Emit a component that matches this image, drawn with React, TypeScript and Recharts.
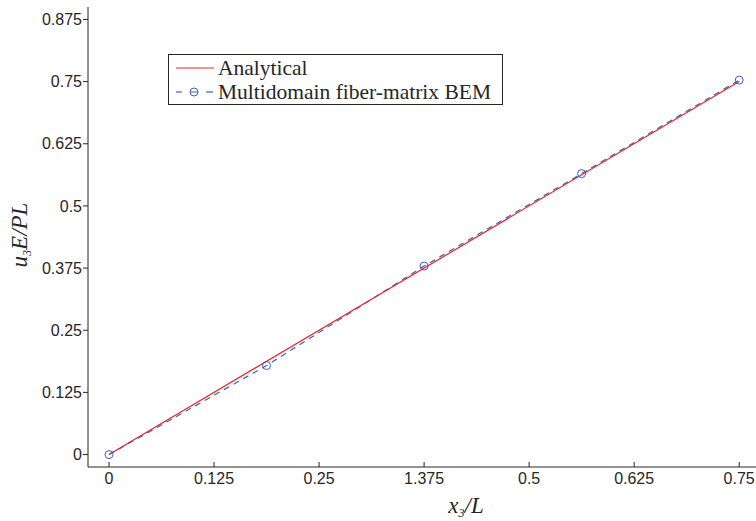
import React from "react";
import { LineChart, Line, XAxis, YAxis, Legend } from "recharts";

const analyticalX = [0, 0.75];
const analyticalY = [0, 0.75];
const bemX = [0, 0.1875, 0.375, 0.5625, 0.75];
const bemY = [0, 0.179, 0.379, 0.565, 0.753];
const xTickValues = [0, 0.125, 0.25, 0.375, 0.5, 0.625, 0.75];
const xTickLabels = ["0", "0.125", "0.25", "1.375", "0.5", "0.625", "0.75"];
const yTickValues = [0, 0.125, 0.25, 0.375, 0.5, 0.625, 0.75, 0.875];
const yTickLabels = ["0", "0.125", "0.25", "0.375", "0.5", "0.625", "0.75", "0.875"];
const seriesNames = ["Analytical", "Multidomain fiber-matrix BEM"];

const analyticalData = analyticalX.map((x, i) => ({ x, y: analyticalY[i] }));
const bemData = bemX.map((x, i) => ({ x, y: bemY[i] }));

const RED = "#e6262d";
const BLUE = "#3e5fbf";
const AXIS = "#262626";
const SANS = "'Liberation Sans', Arial, Helvetica, sans-serif";
const SERIF = "'Liberation Serif', 'Times New Roman', serif";
const TICK_FS = 16;

const XTick = (props: any) => {
  const { x, y, payload } = props;
  const i = xTickValues.indexOf(payload.value);
  const label = i >= 0 ? xTickLabels[i] : String(payload.value);
  return (
    <g>
      <line x1={x} y1={y} x2={x} y2={y - 5} stroke={AXIS} strokeWidth={1} />
      <text x={x} y={y + 17} textAnchor="middle" fontFamily={SANS} fontSize={TICK_FS} fill={AXIS}>
        {label}
      </text>
    </g>
  );
};

const XLabel = (props: any) => {
  const vb = props.viewBox || { x: 88, y: 467, width: 668, height: 54 };
  return (
    <text x={vb.x + 378} y={vb.y + 46} textAnchor="middle" fontFamily={SERIF} fontStyle="italic" fontSize={23} fill={AXIS}>
      <tspan>x</tspan>
      <tspan fontSize={12} dy={4}>3</tspan>
      <tspan dy={-4}>/L</tspan>
    </text>
  );
};

const YLabel = (props: any) => {
  const vb = props.viewBox || { x: 0, y: 7, width: 88, height: 460 };
  const cx = vb.x + 27;
  const cy = vb.y + vb.height / 2 - 2;
  return (
    <text x={cx} y={cy} transform={`rotate(-90, ${cx}, ${cy})`} textAnchor="middle" fontFamily={SERIF} fontStyle="italic" fontSize={23} fill={AXIS}>
      <tspan>u</tspan>
      <tspan fontSize={12} dy={4}>3</tspan>
      <tspan dy={-4}>E/PL</tspan>
    </text>
  );
};

const LegendBox = () => (
  <div style={{ width: 333, height: 49, border: `1px solid ${AXIS}`, background: "#fff", boxSizing: "content-box" }}>
    <svg width={333} height={49} style={{ display: "block" }}>
      <line x1={7} y1={13} x2={45} y2={13} stroke={RED} strokeWidth={1.2} />
      <text x={49} y={20} fontFamily={SERIF} fontSize={21.5} fill={AXIS}>{seriesNames[0]}</text>
      <line x1={7} y1={37} x2={13} y2={37} stroke={BLUE} strokeWidth={1.2} />
      <circle cx={25} cy={37} r={4} fill="none" stroke={BLUE} strokeWidth={1} />
      <line x1={21} y1={37} x2={29} y2={37} stroke={BLUE} strokeWidth={1} />
      <line x1={37} y1={37} x2={44} y2={37} stroke={BLUE} strokeWidth={1.2} />
      <text x={49} y={44} fontFamily={SERIF} fontSize={21.5} fill={AXIS}>{seriesNames[1]}</text>
    </svg>
  </div>
);

export default function App() {
  return (
    <div style={{ position: "absolute", left: 0, top: 0, width: 756, height: 521, background: "#fff" }}>
      <LineChart width={756} height={521} margin={{ top: 7, right: 0, left: 0, bottom: 0 }}>
        <XAxis
          type="number"
          dataKey="x"
          domain={[-0.025, 0.77]}
          ticks={xTickValues}
          interval={0}
          height={54}
          tickSize={0}
          tickMargin={0}
          tickLine={false}
          axisLine={{ stroke: AXIS, strokeWidth: 1 }}
          tick={<XTick />}
          allowDataOverflow
          label={<XLabel />}
        />
        <YAxis
          type="number"
          dataKey="y"
          domain={[-0.025, 0.9]}
          ticks={yTickValues}
          interval={0}
          width={88}
          tickSize={5}
          tickMargin={1}
          tickLine={{ stroke: AXIS, strokeWidth: 1 }}
          axisLine={{ stroke: AXIS, strokeWidth: 1 }}
          tick={{ fontFamily: SANS, fontSize: TICK_FS, fill: AXIS }}
          tickFormatter={(v: number) => {
            const i = yTickValues.indexOf(v);
            return i >= 0 ? yTickLabels[i] : String(v);
          }}
          allowDataOverflow
          label={<YLabel />}
        />
        <Legend
          layout="vertical"
          align="center"
          verticalAlign="middle"
          content={<LegendBox />}
          wrapperStyle={{ position: "absolute", left: 168, top: 54, width: 335, height: 51 }}
        />
        <Line
          data={bemData}
          dataKey="y"
          name={seriesNames[1]}
          type="linear"
          stroke={BLUE}
          strokeWidth={1.2}
          strokeDasharray="6 5"
          dot={{ r: 4, fill: "none", stroke: BLUE, strokeWidth: 1, strokeDasharray: "0" }}
          activeDot={false}
          isAnimationActive={false}
        />
        <Line
          data={analyticalData}
          dataKey="y"
          name={seriesNames[0]}
          type="linear"
          stroke={RED}
          strokeWidth={1.2}
          dot={false}
          activeDot={false}
          isAnimationActive={false}
        />
      </LineChart>
    </div>
  );
}
